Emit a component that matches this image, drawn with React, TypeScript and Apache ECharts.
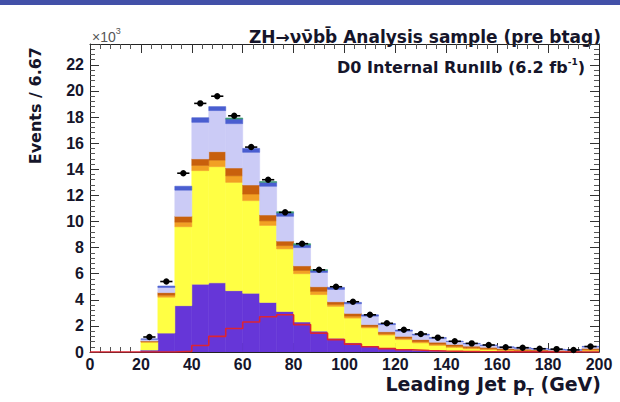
import React, { useEffect, useRef } from "react";
import * as echarts from "echarts";

// Histogram: 30 bins between 0 and 200 GeV (6.67 GeV each); values in thousands of events
const X_MIN = 0;
const X_MAX = 200;
const N_BINS = 30;

const xTickLabels = ["0", "20", "40", "60", "80", "100", "120", "140", "160", "180", "200"];
const yTickLabels = ["0", "2", "4", "6", "8", "10", "12", "14", "16", "18", "20", "22"];

const dataCounts = [0, 0, 0, 1.15, 5.4, 13.7, 19.05, 19.6, 18.1, 15.7, 13.2, 10.7, 8.3, 6.3, 5.0, 3.85, 2.85, 2.2, 1.7, 1.38, 1.1, 0.82, 0.66, 0.54, 0.36, 0.33, 0.25, 0.22, 0.16, 0.42];

const purpleBkg = [0, 0, 0, 0.15, 1.45, 3.55, 5.2, 5.3, 4.7, 4.5, 3.8, 3.1, 2.3, 1.6, 1.05, 0.7, 0.45, 0.3, 0.2, 0.15, 0.1, 0.07, 0.05, 0.04, 0.03, 0.02, 0.02, 0.01, 0.01, 0.03];
const yellowBkg = [0, 0, 0, 0.6, 2.75, 6.05, 8.7, 8.9, 8.3, 7.1, 5.9, 4.8, 3.7, 2.8, 2.45, 1.9, 1.4, 1.0, 0.75, 0.55, 0.4, 0.28, 0.2, 0.14, 0.09, 0.07, 0.05, 0.04, 0.03, 0.09];
const orangeBkg = [0, 0, 0, 0.04, 0.15, 0.35, 0.4, 0.5, 0.5, 0.5, 0.35, 0.25, 0.25, 0.25, 0.15, 0.15, 0.1, 0.1, 0.1, 0.1, 0.1, 0.09, 0.08, 0.07, 0.06, 0.05, 0.04, 0.03, 0.02, 0.06];
const darkOrangeBkg = [0, 0, 0, 0.06, 0.2, 0.45, 0.5, 0.65, 0.6, 0.7, 0.45, 0.35, 0.35, 0.35, 0.2, 0.21, 0.15, 0.15, 0.15, 0.15, 0.15, 0.14, 0.12, 0.11, 0.09, 0.08, 0.06, 0.05, 0.04, 0.1];
const lavenderBkg = [0, 0, 0, 0.13, 0.4, 2.0, 2.8, 3.15, 3.4, 2.5, 2.2, 1.9, 1.4, 1.1, 0.95, 0.74, 0.65, 0.55, 0.4, 0.35, 0.3, 0.22, 0.18, 0.14, 0.1, 0.08, 0.07, 0.06, 0.05, 0.12];
const blueBkg = [0, 0, 0, 0.02, 0.1, 0.3, 0.35, 0.3, 0.35, 0.3, 0.3, 0.25, 0.2, 0.15, 0.15, 0.1, 0.1, 0.08, 0.08, 0.06, 0.05, 0.03, 0.03, 0.03, 0.02, 0.02, 0.02, 0.02, 0.02, 0.03];
const greenBkg = [0, 0, 0, 0, 0, 0, 0, 0, 0.08, 0, 0.06, 0.1, 0.1, 0.06, 0, 0, 0, 0, 0, 0, 0, 0, 0, 0, 0, 0, 0, 0, 0, 0];

const signalLine = [0, 0, 0, 0, 0, 0.05, 0.5, 1.2, 1.8, 2.3, 2.7, 2.85, 2.1, 1.45, 0.95, 0.6, 0.4, 0.26, 0.17, 0.12, 0.08, 0.05, 0.03, 0.02, 0.01, 0.01, 0.01, 0, 0, 0];

const layerDefs = [
  { name: "purple", values: purpleBkg, color: "#6636d8" },
  { name: "yellow", values: yellowBkg, color: "#ffff44" },
  { name: "orange", values: orangeBkg, color: "#f2a024" },
  { name: "darkorange", values: darkOrangeBkg, color: "#c8600c" },
  { name: "lavender", values: lavenderBkg, color: "#cbcbf6" },
  { name: "blue", values: blueBkg, color: "#4a5ed0" },
  { name: "green", values: greenBkg, color: "#3a9a74" },
];

const FONT = "'Liberation Sans', Arial, Helvetica, sans-serif";
const WIDE = "'DejaVu Sans', Verdana, sans-serif";

export default function App() {
  const ref = useRef<HTMLDivElement>(null);

  useEffect(() => {
    if (!ref.current) return;
    const chart = echarts.init(ref.current, null, { renderer: "svg" });
    const bw = (X_MAX - X_MIN) / N_BINS;
    const cum = new Array(N_BINS).fill(0);

    const stackSeries: any[] = layerDefs.map((layer) => {
      const items: number[][] = [];
      for (let i = 0; i < N_BINS; i++) {
        const v = layer.values[i];
        const base = cum[i];
        cum[i] += v;
        if (v > 0) items.push([X_MIN + i * bw, X_MIN + (i + 1) * bw, base, base + v]);
      }
      const color = layer.color;
      return {
        type: "custom",
        name: layer.name,
        silent: true,
        clip: true,
        data: items,
        encode: { x: [0, 1], y: [2, 3] },
        renderItem: (params: any, api: any) => {
          const a = api.coord([api.value(0), api.value(3)]);
          const b = api.coord([api.value(1), api.value(2)]);
          return {
            type: "rect",
            shape: { x: a[0], y: a[1], width: b[0] - a[0], height: b[1] - a[1] },
            style: { fill: color, stroke: color, lineWidth: 0.6 },
          };
        },
      };
    });

    const sigData: number[][] = signalLine.map((v, i) => [X_MIN + i * bw, v]);
    sigData.push([X_MAX, signalLine[N_BINS - 1]]);

    const pointData: number[][] = [];
    dataCounts.forEach((v, i) => {
      if (v > 0) pointData.push([X_MIN + (i + 0.5) * bw, v]);
    });
    const halfBar = bw * 0.36;

    const axisCommon = {
      axisLine: { show: true, onZero: false, lineStyle: { color: "#222", width: 1 } },
      axisTick: { show: true, inside: true, length: 9, lineStyle: { color: "#333", width: 1 } },
      minorTick: { show: true, splitNumber: 5, length: 5, lineStyle: { color: "#555", width: 1 } },
      splitLine: { show: false },
    };

    const option: any = {
      animation: false,
      backgroundColor: "#ffffff",
      grid: { left: 90, top: 44, width: 509, height: 308, containLabel: false, outerBoundsMode: "none" },
      xAxis: [
        {
          type: "value",
          min: X_MIN,
          max: X_MAX,
          interval: 20,
          position: "bottom",
          ...axisCommon,
          axisLabel: {
            margin: 4,
            fontSize: 16,
            fontWeight: "bold",
            fontFamily: FONT,
            color: "#15152a",
            formatter: (v: number) => xTickLabels[Math.round(v / 20)] ?? "",
          },
        },
        {
          type: "value",
          min: X_MIN,
          max: X_MAX,
          interval: 20,
          position: "top",
          ...axisCommon,
          axisLabel: { show: false },
        },
      ],
      yAxis: [
        {
          type: "value",
          min: 0,
          max: 23.6,
          interval: 2,
          position: "left",
          ...axisCommon,
          axisLabel: {
            margin: 6,
            fontSize: 16,
            fontWeight: "bold",
            fontFamily: FONT,
            color: "#15152a",
            showMaxLabel: false,
            formatter: (v: number) => {
              const idx = Math.round(v / 2);
              return Math.abs(v - idx * 2) < 1e-6 ? yTickLabels[idx] ?? "" : "";
            },
          },
        },
        {
          type: "value",
          min: 0,
          max: 23.6,
          interval: 2,
          position: "right",
          ...axisCommon,
          axisLabel: { show: false },
        },
      ],
      series: [
        ...stackSeries,
        {
          type: "line",
          name: "signal",
          data: sigData,
          step: "end",
          symbol: "none",
          silent: true,
          lineStyle: { color: "#dc2433", width: 1.6 },
          z: 3,
        },
        {
          type: "custom",
          name: "data",
          silent: true,
          data: pointData,
          encode: { x: 0, y: 1 },
          z: 4,
          renderItem: (params: any, api: any) => {
            const c = api.coord([api.value(0), api.value(1)]);
            const l = api.coord([api.value(0) - halfBar, api.value(1)]);
            const r = api.coord([api.value(0) + halfBar, api.value(1)]);
            return {
              type: "group",
              children: [
                { type: "line", shape: { x1: l[0], y1: c[1], x2: r[0], y2: c[1] }, style: { stroke: "#000", lineWidth: 1.6 } },
                { type: "circle", shape: { cx: c[0], cy: c[1], r: 3.2 }, style: { fill: "#000" } },
              ],
            };
          },
        },
      ],
      graphic: [
        {
          type: "rect",
          left: 0,
          top: 0,
          shape: { width: 620, height: 5 },
          style: { fill: "#4250a8" },
          silent: true,
        },
        {
          type: "text",
          x: 601,
          y: 37,
          style: {
            text: "ZH→νν̄bb̄ Analysis sample (pre btag)",
            fontSize: 17,
            fontWeight: "bold",
            fontFamily: WIDE,
            fill: "#15152a",
            textAlign: "right",
            textVerticalAlign: "middle",
          },
        },
        {
          type: "text",
          x: 92,
          y: 35,
          style: {
            text: "{a|×10}{s|3}",
            rich: {
              a: { fontSize: 14, fontFamily: FONT, fill: "#555", lineHeight: 18, verticalAlign: "bottom" },
              s: { fontSize: 9, fontFamily: FONT, fill: "#555", lineHeight: 18, verticalAlign: "top" },
            },
            textAlign: "left",
            textVerticalAlign: "middle",
          },
        },
        {
          type: "text",
          x: 585,
          y: 67,
          style: {
            text: "{a|D0 Internal RunIIb (6.2 fb}{s|-1}{a|)}",
            rich: {
              a: { fontSize: 16, fontWeight: "bold", fontFamily: WIDE, fill: "#15152a", lineHeight: 20, verticalAlign: "middle" },
              s: { fontSize: 9, fontWeight: "bold", fontFamily: WIDE, fill: "#15152a", lineHeight: 20, verticalAlign: "top" },
            },
            textAlign: "right",
            textVerticalAlign: "middle",
          },
        },
        {
          type: "text",
          x: 35,
          y: 47,
          rotation: Math.PI / 2,
          style: {
            text: "Events / 6.67",
            fontSize: 16,
            fontWeight: "bold",
            fontFamily: WIDE,
            fill: "#15152a",
            textAlign: "right",
            textVerticalAlign: "middle",
          },
        },
        {
          type: "text",
          x: 601,
          y: 384,
          style: {
            text: "{a|Leading Jet p}{s|T}{a| (GeV)}",
            rich: {
              a: { fontSize: 19, fontWeight: "bold", fontFamily: WIDE, fill: "#15152a", lineHeight: 28, verticalAlign: "middle" },
              s: { fontSize: 11, fontWeight: "bold", fontFamily: WIDE, fill: "#15152a", lineHeight: 28, verticalAlign: "bottom" },
            },
            textAlign: "right",
            textVerticalAlign: "middle",
          },
        },
      ],
    };

    chart.setOption(option);
    return () => chart.dispose();
  }, []);

  return (
    <div
      ref={ref}
      style={{ position: "fixed", left: 0, top: 0, width: 620, height: 402, background: "#fff" }}
    />
  );
}
